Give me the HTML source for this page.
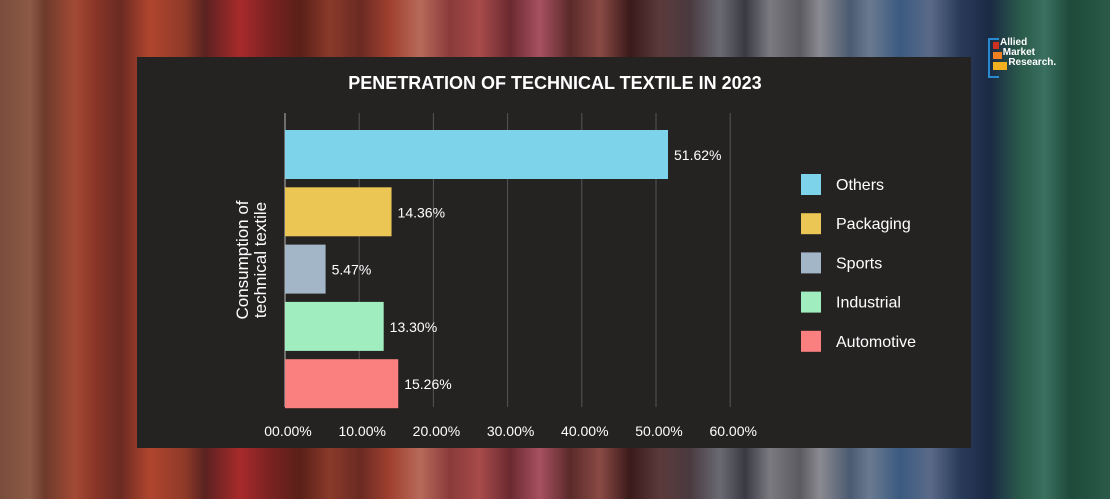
<!DOCTYPE html>
<html><head><meta charset="utf-8"><style>
body{margin:0;width:1110px;height:499px;overflow:hidden;font-family:"Liberation Sans",sans-serif;}
#bg{position:absolute;left:0;top:0;width:1110px;height:499px;background:linear-gradient(90deg,#7a4c3c 0,#8c5a45 30px,#6e3a2c 45px,#a34a34 75px,#8a3527 95px,#6a2a22 120px,#b0452e 150px,#8e3a28 185px,#5a2220 205px,#a82a2a 240px,#7a2222 270px,#5a2018 300px,#8a3a2a 330px,#6a2a22 360px,#a04030 390px,#b86a5a 420px,#8a3a3a 450px,#a84a4a 480px,#6a2a30 510px,#a85060 540px,#5a2a2a 570px,#8a4a44 600px,#3a1a1a 630px,#5a3a3a 660px,#4a3a40 690px,#6a6a72 720px,#3a3a44 745px,#7a7a80 770px,#5a5a60 800px,#8a8a90 820px,#4a5a70 850px,#6a7a90 870px,#3a5a80 900px,#5a6a88 930px,#2a3a5a 960px,#1a2a44 990px,#2a5a4a 1020px,#3a7060 1045px,#1e4a3a 1070px,#2a5a48 1110px);}
#panel{position:absolute;left:137px;top:57px;width:834px;height:391px;background:#252222;}
</style></head><body>
<div id="bg"></div>
<div id="panel"></div>
<div style="position:absolute;left:988px;top:38px;">
<div style="position:absolute;left:0;top:0;width:9px;height:36px;border:2px solid #2a8ad0;border-right:none"></div>
<div style="position:absolute;left:5px;top:4px;width:6px;height:7px;background:#d03020"></div>
<div style="position:absolute;left:5px;top:14px;width:9px;height:7px;background:#f08020"></div>
<div style="position:absolute;left:5px;top:24px;width:14px;height:8px;background:#f0b020"></div>
<div style="position:absolute;left:12px;top:0px;color:#fff;font-size:10px;line-height:10px;font-weight:bold">Allied<br>&nbsp;Market<br>&nbsp;&nbsp;&nbsp;Research.</div>
</div>
<svg id="chart" width="1110" height="499" style="position:absolute;left:0;top:0"></svg>
<script>
const categories=["Others","Packaging","Sports","Industrial","Automotive"];
const values=[51.62,14.36,5.47,13.30,15.26];
const labels=["51.62%","14.36%","5.47%","13.30%","15.26%"];
const colors=["#7dd3ea","#ecc655","#a2b6c8","#a0edc0","#fa8080"];
const ticks=[0,10,20,30,40,50,60];
const tickLabels=["00.00%","10.00%","20.00%","30.00%","40.00%","50.00%","60.00%"];
const NS="http://www.w3.org/2000/svg";
const svg=document.getElementById('chart');
const x=v=>285+v*7.42;
const y=i=>130+i*57.3;
function mk(t,a){const e=document.createElementNS(NS,t);for(const k in a)e.setAttribute(k,a[k]);svg.appendChild(e);return e;}
let t=mk('text',{x:555,y:89,fill:'#fff','font-size':18,'font-weight':'bold','text-anchor':'middle'});t.textContent="PENETRATION OF TECHNICAL TEXTILE IN 2023";


ticks.forEach((v,i)=>{
 if(i>0){const g=mk('line',{x1:x(v),x2:x(v),y1:113,y2:407,stroke:'#555',"stroke-width":1});
 
 }
 const l=mk('text',{x:x(v)+3,y:436,fill:'#fff','font-size':14,'text-anchor':'middle'});l.textContent=tickLabels[i];
 
 
});
const ax=mk('line',{x1:285,x2:285,y1:113,y2:407,stroke:'#888',"stroke-width":1.5});


values.forEach((v,i)=>{
 const r=mk('rect',{x:285,y:y(i),width:x(v)-285,height:49,fill:colors[i]});
 
 
 const l=mk('text',{x:x(v)+6,y:y(i)+30,fill:'#fff','font-size':14});l.textContent=labels[i];
 
 
 const ly=184+i*39.2;
 const s=mk('rect',{x:801,y:ly-10,width:20,height:21,fill:colors[i]});
 
 
 const lt=mk('text',{x:836,y:ly+6,fill:'#fff','font-size':16});lt.textContent=categories[i];
 
 
});
const yt=mk('text',{transform:'translate(252,260) rotate(-90)',fill:'#fff','font-size':17,'text-anchor':'middle'});


const a=document.createElementNS(NS,'tspan');a.setAttribute('x',0);a.setAttribute('y',-4);a.textContent="Consumption of";yt.appendChild(a);
const b=document.createElementNS(NS,'tspan');b.setAttribute('x',0);b.setAttribute('y',14);b.textContent="technical textile";yt.appendChild(b);
</script>
</body></html>
